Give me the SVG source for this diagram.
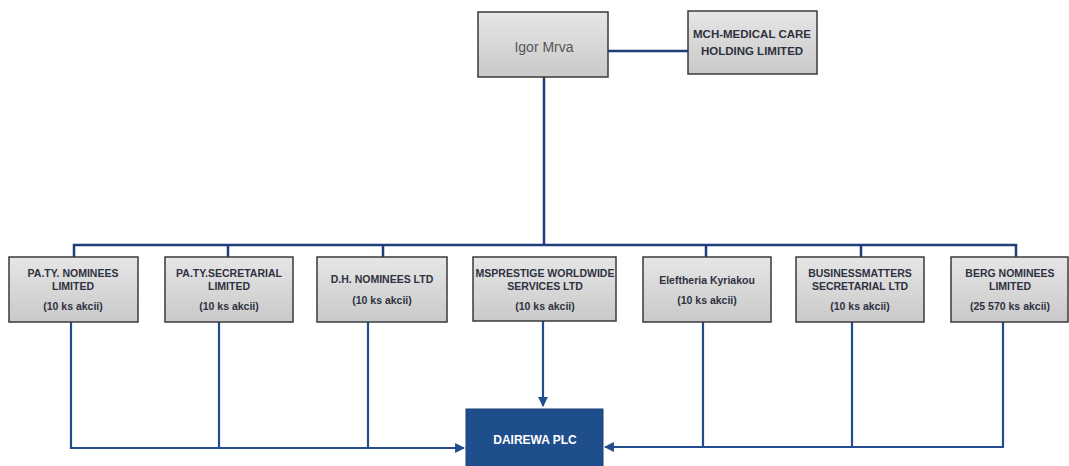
<svg xmlns="http://www.w3.org/2000/svg" width="1069" height="466" viewBox="0 0 1069 466">
<style>
.box{fill:url(#g);stroke:#3a3a3a;stroke-width:1.5}
.t{font-family:"Liberation Sans",Arial,sans-serif;font-size:10.5px;font-weight:bold;fill:#2e3240;text-anchor:middle}
.c{fill:none;stroke:#1f3f78;stroke-width:2.5}
.c2{fill:none;stroke:#234d8f;stroke-width:2.2}
</style>
<defs>
<linearGradient id="g" x1="0" y1="0" x2="0" y2="1">
<stop offset="0" stop-color="#e6e6e6"/>
<stop offset="1" stop-color="#c9c9c9"/>
</linearGradient>
<marker id="ar" viewBox="0 0 10 10" refX="9" refY="5" markerWidth="4.5" markerHeight="4.5" orient="auto" markerUnits="strokeWidth">
<path d="M0,0 L10,5 L0,10 z" fill="#234d8f"/>
</marker>
</defs>
<rect width="1069" height="466" fill="#ffffff"/>
<g id="connectors">
<path class="c" d="M608,51 H688"/>
<path class="c" d="M544,77 V245"/>
<path class="c" d="M74,257 V245 H1016 V257"/>
<path class="c" d="M228,245 V257 M383,245 V257 M706,245 V257 M861,245 V257"/>
<path class="c2" d="M71,322 V448 H464" marker-end="url(#ar)"/>
<path class="c2" d="M219,322 V448 M368,322 V448"/>
<path class="c2" d="M543,321 V406" marker-end="url(#ar)"/>
<path class="c2" d="M1003,322 V447 H605" marker-end="url(#ar)"/>
<path class="c2" d="M703,322 V447 M852,322 V447"/>
</g>
<g id="igor">
<rect class="box" x="478" y="12" width="130" height="65"/>
<text x="544" y="52" font-family="Liberation Sans,Arial,sans-serif" font-size="14" fill="#555" text-anchor="middle">Igor Mrva</text>
</g>
<g id="mch">
<rect class="box" x="688" y="11" width="129" height="63"/>
<text class="t" x="752" y="38" style="font-size:11.5px">MCH-MEDICAL CARE</text>
<text class="t" x="752" y="55" style="font-size:11.5px">HOLDING LIMITED</text>
</g>
<g id="paty-nominees">
<rect class="box" x="9" y="257" width="129" height="65"/>
<text class="t" x="73" y="277">PA.TY. NOMINEES</text>
<text class="t" x="73" y="290">LIMITED</text>
<text class="t" x="73" y="310">(10 ks akcii)</text>
</g>
<g id="paty-secretarial">
<rect class="box" x="165" y="257" width="128" height="65"/>
<text class="t" x="229" y="277">PA.TY.SECRETARIAL</text>
<text class="t" x="229" y="290">LIMITED</text>
<text class="t" x="229" y="310">(10 ks akcii)</text>
</g>
<g id="dh-nominees">
<rect class="box" x="317" y="257" width="130" height="65"/>
<text class="t" x="382" y="283">D.H. NOMINEES LTD</text>
<text class="t" x="382" y="304">(10 ks akcii)</text>
</g>
<g id="msprestige">
<rect class="box" x="473" y="257" width="143" height="64"/>
<text class="t" x="545" y="277">MSPRESTIGE WORLDWIDE</text>
<text class="t" x="545" y="290">SERVICES LTD</text>
<text class="t" x="545" y="310">(10 ks akcii)</text>
</g>
<g id="eleftheria">
<rect class="box" x="643" y="257" width="128" height="65"/>
<text class="t" x="707" y="284">Eleftheria Kyriakou</text>
<text class="t" x="707" y="304">(10 ks akcii)</text>
</g>
<g id="businessmatters">
<rect class="box" x="796" y="257" width="128" height="65"/>
<text class="t" x="860" y="277">BUSINESSMATTERS</text>
<text class="t" x="860" y="290">SECRETARIAL LTD</text>
<text class="t" x="860" y="310">(10 ks akcii)</text>
</g>
<g id="berg">
<rect class="box" x="951" y="257" width="117" height="65"/>
<text class="t" x="1010" y="277">BERG NOMINEES</text>
<text class="t" x="1010" y="290">LIMITED</text>
<text class="t" x="1010" y="310">(25 570 ks akcii)</text>
</g>
<g id="dairewa">
<rect x="466" y="409" width="137" height="60" fill="#1f4e8c" stroke="#1a3f73" stroke-width="1"/>
<text x="535" y="444" font-family="Liberation Sans,Arial,sans-serif" font-size="12" font-weight="bold" fill="#ffffff" text-anchor="middle">DAIREWA PLC</text>
</g>
</svg>
